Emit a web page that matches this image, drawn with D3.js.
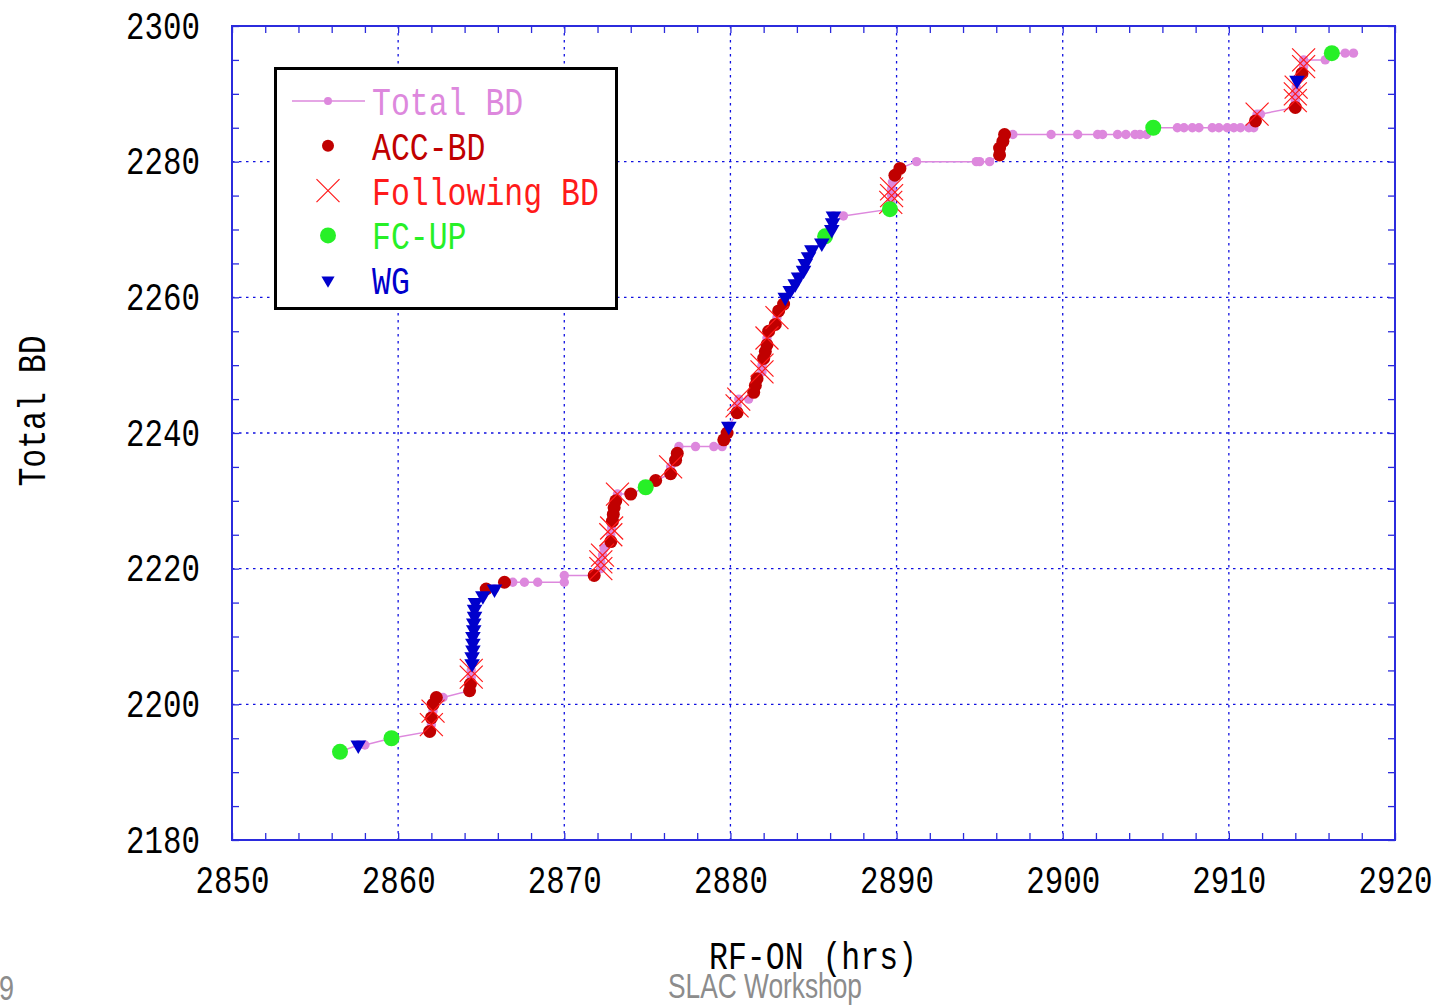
<!DOCTYPE html>
<html>
<head>
<meta charset="utf-8">
<script src="https://cdn.jsdelivr.net/npm/d3@7"></script>
<style>
  body { margin: 0; background: #fff; }
  svg { display: block; }
</style>
</head>
<body>
<script>
// Points: [RF-ON hours, total BD count]
const plainBD = [
  [2858.0, 2194], [2862.7, 2201], [2866.9, 2218], [2867.6, 2218], [2868.4, 2218],
  [2870.0, 2218], [2870.0, 2219], [2872.4, 2223], [2876.9, 2238], [2877.9, 2238],
  [2879.0, 2238], [2879.5, 2238], [2881.1, 2245], [2886.8, 2272], [2889.75, 2277],
  [2891.2, 2280], [2894.8, 2280], [2895.0, 2280], [2895.6, 2280], [2897.0, 2284],
  [2899.3, 2284], [2900.9, 2284], [2902.1, 2284], [2902.4, 2284], [2903.3, 2284],
  [2903.8, 2284], [2904.35, 2284], [2904.65, 2284], [2905.05, 2284], [2906.9, 2285],
  [2907.3, 2285], [2907.8, 2285], [2908.2, 2285], [2909.0, 2285], [2909.4, 2285],
  [2909.9, 2285], [2910.3, 2285], [2910.7, 2285], [2911.2, 2285], [2911.5, 2285],
  [2911.9, 2287], [2915.8, 2295], [2917.0, 2296], [2917.5, 2296]
];

const accBD = [
  [2861.9, 2196], [2862.0, 2198], [2862.1, 2200], [2862.3, 2201], [2864.3, 2202],
  [2864.35, 2203], [2865.3, 2217], [2866.4, 2218], [2871.8, 2219], [2872.8, 2224],
  [2872.9, 2227], [2872.95, 2228], [2873.0, 2229], [2873.1, 2230], [2874.0, 2231],
  [2875.5, 2233], [2876.4, 2234], [2876.7, 2236], [2876.8, 2237], [2879.6, 2239],
  [2879.8, 2240], [2880.4, 2243], [2881.4, 2246], [2881.5, 2247], [2881.6, 2248],
  [2882.0, 2251], [2882.1, 2252], [2882.2, 2253], [2882.3, 2255], [2882.7, 2256],
  [2882.9, 2258], [2883.2, 2259], [2889.9, 2278], [2890.2, 2279], [2896.2, 2281],
  [2896.2, 2282], [2896.4, 2283], [2896.5, 2284], [2911.6, 2286], [2914.0, 2288],
  [2914.4, 2293]
];

const followingBD = [
  [2862.0, 2197], [2862.1, 2199], [2864.4, 2204], [2864.4, 2205], [2872.2, 2220],
  [2872.2, 2221], [2872.3, 2222], [2872.8, 2225], [2872.85, 2226], [2873.2, 2231],
  [2876.4, 2235], [2880.4, 2244], [2880.5, 2245], [2881.9, 2249], [2881.9, 2250],
  [2882.2, 2254], [2882.8, 2257], [2889.65, 2274], [2889.7, 2275], [2889.7, 2276],
  [2911.7, 2287], [2914.0, 2289], [2914.0, 2290], [2914.05, 2291], [2914.5, 2294],
  [2914.5, 2295]
];

const fcUp = [
  [2856.5, 2193], [2859.6, 2195], [2874.9, 2232], [2885.7, 2269], [2889.6, 2273],
  [2905.45, 2285], [2916.2, 2296]
];

const wg = [
  [2857.6, 2194], [2864.45, 2206], [2864.45, 2207], [2864.5, 2208], [2864.5, 2209],
  [2864.5, 2210], [2864.55, 2211], [2864.55, 2212], [2864.6, 2213], [2864.6, 2214],
  [2864.65, 2215], [2865.1, 2216], [2865.8, 2217], [2879.9, 2241], [2883.3, 2260],
  [2883.6, 2261], [2883.9, 2262], [2884.1, 2263], [2884.4, 2264], [2884.5, 2265],
  [2884.7, 2266], [2884.9, 2267], [2885.5, 2268], [2886.1, 2270], [2886.15, 2271],
  [2886.2, 2272], [2914.1, 2292]
];

const xTicks = [2850, 2860, 2870, 2880, 2890, 2900, 2910, 2920];
const yTicks = [2180, 2200, 2220, 2240, 2260, 2280, 2300];

const legendNames = ["Total BD", "ACC-BD", "Following BD", "FC-UP", "WG"];

// every event also sits on the Total BD curve
const totalBD = [...plainBD, ...accBD, ...followingBD, ...fcUp, ...wg]
  .sort((a, b) => a[1] - b[1] || a[0] - b[0]);

const W = 1439, H = 1006;
const pLeft = 232, pTop = 26, pRight = 1395, pBottom = 840;
const FONT = "'Liberation Mono', 'DejaVu Sans Mono', monospace";
const CHAR_W = 18.9;

const PINK = "#dd88dd", DARKRED = "#c00000", RED = "#ff1a1a", GREEN = "#27f027", BLUE = "#0000cc";
const AXIS = "#2b2bdd";

const svg = d3.select("body").append("svg").attr("width", W).attr("height", H);

const x = d3.scaleLinear().domain([2850, 2920]).range([pLeft, pRight]);
const y = d3.scaleLinear().domain([2180, 2300]).range([pBottom, pTop]);

// grid (dotted)
const grid = svg.append("g");
grid.selectAll("line.gx").data(xTicks.slice(1, -1)).enter().append("line")
  .attr("x1", d => x(d)).attr("x2", d => x(d))
  .attr("y1", pTop).attr("y2", pBottom);
grid.selectAll("line.gy").data(yTicks.slice(1, -1)).enter().append("line")
  .attr("y1", d => y(d)).attr("y2", d => y(d))
  .attr("x1", pLeft).attr("x2", pRight);
grid.selectAll("line")
  .attr("stroke", "#1010e0").attr("stroke-width", 1.3).attr("stroke-dasharray", "2.5,4.5");

// inward ticks on all four sides
const xMinor = d3.range(2850, 2921, 2);
const yMinor = d3.range(2180, 2301, 5);
function tickAxis(axis, tr) {
  const g = svg.append("g").attr("transform", tr).call(axis);
  g.select(".domain").remove();
  g.selectAll("line").attr("stroke", AXIS).attr("stroke-width", 1.3);
  g.selectAll("text").remove();
}
tickAxis(d3.axisBottom(x).tickValues(xMinor).tickSize(-7), `translate(0,${pBottom})`);
tickAxis(d3.axisTop(x).tickValues(xMinor).tickSize(-7), `translate(0,${pTop})`);
tickAxis(d3.axisLeft(y).tickValues(yMinor).tickSize(-7), `translate(${pLeft},0)`);
tickAxis(d3.axisRight(y).tickValues(yMinor).tickSize(-7), `translate(${pRight},0)`);

// frame
svg.append("rect")
  .attr("x", pLeft).attr("y", pTop).attr("width", pRight - pLeft).attr("height", pBottom - pTop)
  .attr("fill", "none").attr("stroke", AXIS).attr("stroke-width", 2);

// tick labels
const xLab = svg.append("g").attr("transform", `translate(0,${pBottom})`)
  .call(d3.axisBottom(x).tickValues(xTicks).tickSize(0).tickFormat(d3.format("d")));
xLab.select(".domain").remove();
xLab.selectAll("text").attr("y", 53).attr("dy", 0);

const yLab = svg.append("g").attr("transform", `translate(${pLeft},0)`)
  .call(d3.axisLeft(y).tickValues(yTicks).tickSize(0).tickFormat(d3.format("d")));
yLab.select(".domain").remove();
yLab.selectAll("text").attr("x", -32).attr("dy", 12);

svg.selectAll(".tick text")
  .attr("font-family", FONT).attr("font-size", 39).attr("fill", "#000")
  .attr("textLength", 74).attr("lengthAdjust", "spacingAndGlyphs");

function label(txt, px, py, color, anchor) {
  return svg.append("text")
    .attr("x", px).attr("y", py)
    .attr("font-family", FONT).attr("font-size", 39).attr("fill", color)
    .attr("text-anchor", anchor || "start")
    .attr("textLength", txt.length * CHAR_W).attr("lengthAdjust", "spacingAndGlyphs")
    .text(txt);
}

// axis titles
label("RF-ON (hrs)", 813, 969, "#000", "middle");
label("Total BD", 0, 0, "#000", "middle")
  .attr("transform", "translate(45,411) rotate(-90)");

// markers
const xMark = "M-11.5,-11.5L11.5,11.5M-11.5,11.5L11.5,-11.5";
const tri = d3.symbol(d3.symbolTriangle, 105)();

const line = d3.line().x(d => x(d[0])).y(d => y(d[1]));
svg.append("path").datum(totalBD)
  .attr("d", line).attr("fill", "none").attr("stroke", PINK).attr("stroke-width", 1.5);

svg.append("g").selectAll("circle").data(totalBD).enter().append("circle")
  .attr("cx", d => x(d[0])).attr("cy", d => y(d[1])).attr("r", 4.7).attr("fill", PINK);

svg.append("g").selectAll("circle").data(accBD).enter().append("circle")
  .attr("cx", d => x(d[0])).attr("cy", d => y(d[1])).attr("r", 6.5).attr("fill", DARKRED);

svg.append("g").selectAll("path").data(followingBD).enter().append("path")
  .attr("transform", d => `translate(${x(d[0])},${y(d[1])})`)
  .attr("d", xMark).attr("fill", "none").attr("stroke", RED).attr("stroke-width", 1.2);

svg.append("g").selectAll("circle").data(fcUp).enter().append("circle")
  .attr("cx", d => x(d[0])).attr("cy", d => y(d[1])).attr("r", 8).attr("fill", GREEN);

svg.append("g").selectAll("path").data(wg).enter().append("path")
  .attr("transform", d => `translate(${x(d[0])},${y(d[1])}) rotate(180)`)
  .attr("d", tri).attr("fill", BLUE);

// legend
const lg = svg.append("g");
lg.append("rect").attr("x", 275.5).attr("y", 68.5).attr("width", 341).attr("height", 240)
  .attr("fill", "#fff").attr("stroke", "#000").attr("stroke-width", 3);
const rowY = i => 101 + i * 44.8;
const symX = 328, txtX = 372;
lg.append("line").attr("x1", 292).attr("x2", 365).attr("y1", rowY(0)).attr("y2", rowY(0))
  .attr("stroke", PINK).attr("stroke-width", 1.5);
lg.append("circle").attr("cx", symX).attr("cy", rowY(0)).attr("r", 4).attr("fill", PINK);
lg.append("circle").attr("cx", symX).attr("cy", rowY(1)).attr("r", 6).attr("fill", DARKRED);
lg.append("path").attr("transform", `translate(${symX},${rowY(2)})`)
  .attr("d", xMark).attr("fill", "none").attr("stroke", RED).attr("stroke-width", 1.2);
lg.append("circle").attr("cx", symX).attr("cy", rowY(3)).attr("r", 8).attr("fill", GREEN);
lg.append("path").attr("transform", `translate(${symX},${rowY(4)}) rotate(180)`)
  .attr("d", d3.symbol(d3.symbolTriangle, 75)()).attr("fill", BLUE);

const legendColors = [PINK, DARKRED, RED, GREEN, BLUE];
legendNames.forEach((n, i) => label(n, txtX, rowY(i) + 14, legendColors[i]));

// footer of the slide
svg.append("text").attr("x", 668).attr("y", 998)
  .attr("font-family", "'Liberation Sans', Arial, sans-serif").attr("font-size", 35)
  .attr("fill", "#8c8c8c").attr("textLength", 194).attr("lengthAdjust", "spacingAndGlyphs")
  .text("SLAC Workshop");
svg.append("text").attr("x", -1).attr("y", 1000)
  .attr("font-family", "'Liberation Sans', Arial, sans-serif").attr("font-size", 35)
  .attr("fill", "#8c8c8c").attr("textLength", 15).attr("lengthAdjust", "spacingAndGlyphs")
  .text("9");
</script>
</body>
</html>
